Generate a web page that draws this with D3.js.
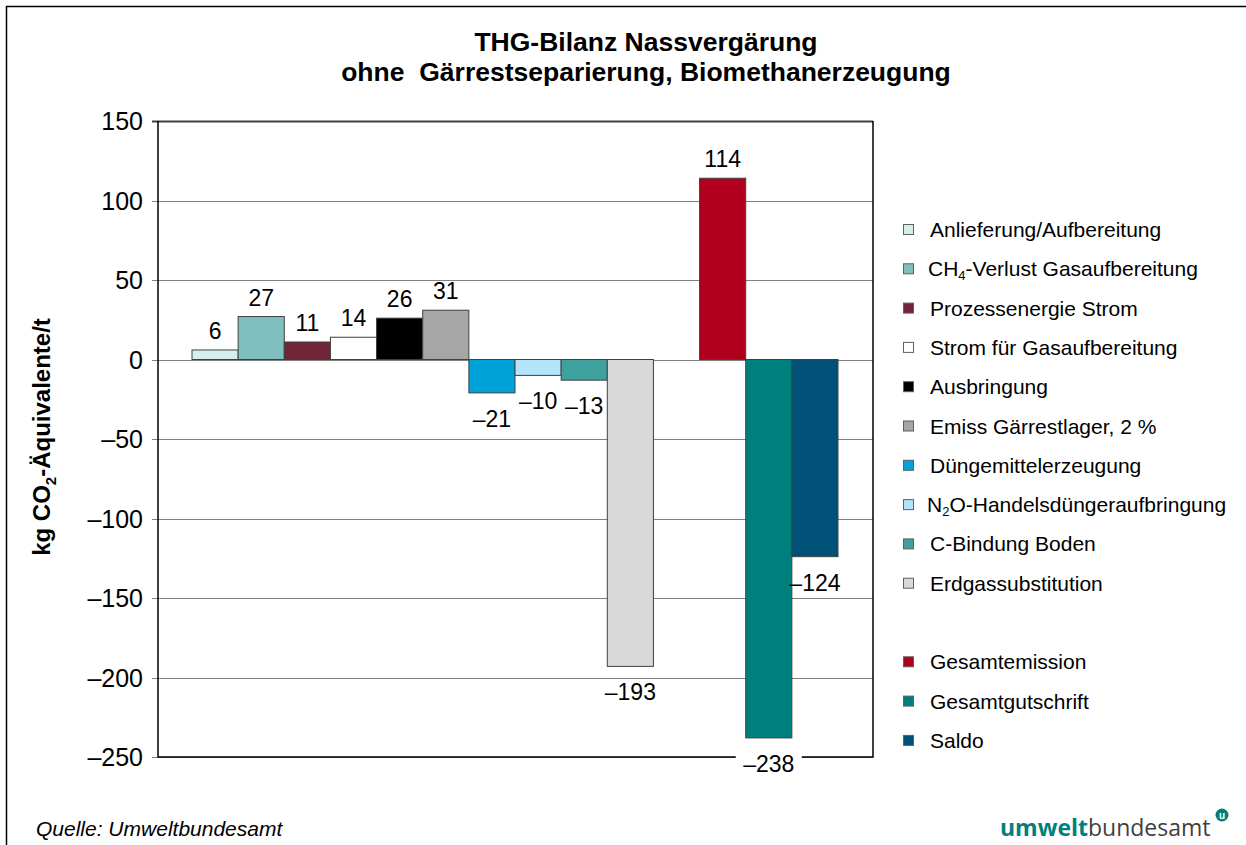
<!DOCTYPE html>
<html>
<head>
<meta charset="utf-8">
<script src="https://cdn.jsdelivr.net/npm/d3@7"></script>
<style>
  body { margin: 0; background: #fff; }
  svg { font-family: Arial, "Liberation Sans", sans-serif; }
</style>
</head>
<body>
<svg id="chart" width="1246" height="845"></svg>
<script>
// chart data
const categories = [
    'Anlieferung/Aufbereitung', 'CH4-Verlust Gasaufbereitung', 'Prozessenergie Strom',
    'Strom für Gasaufbereitung', 'Ausbringung', 'Emiss Gärrestlager, 2 %',
    'Düngemittelerzeugung', 'N2O-Handelsdüngeraufbringung', 'C-Bindung Boden',
    'Erdgassubstitution', 'Gesamtemission', 'Gesamtgutschrift', 'Saldo'
];
const values = [6, 27, 11, 14, 26, 31, -21, -10, -13, -193, 114, -238, -124];
// 0 = single items, 1 = totals
const groups = [0, 0, 0, 0, 0, 0, 0, 0, 0, 0, 1, 1, 1];
const colors = ['#d5efec', '#80bfbf', '#722438', '#ffffff', '#000000', '#a6a6a6',
    '#00a3d9', '#b4e4f9', '#3fa19f', '#d9d9d9', '#b0001e', '#00807d', '#005078'];
const yTicks = [150, 100, 50, 0, -50, -100, -150, -200, -250];

const svg = d3.select('#chart');
const plot = {left: 158, right: 873, top: 121, bottom: 757};
const fmt = d => d < 0 ? '\u2013' + Math.abs(d) : String(d);

// outer frame
svg.append('rect')
    .attr('x', 6.5).attr('y', 6.5)
    .attr('width', 1300).attr('height', 900)
    .attr('fill', 'none').attr('stroke', '#000').attr('stroke-width', 1.5);

// title
const title = svg.append('text')
    .attr('text-anchor', 'middle')
    .attr('font-size', 26.5).attr('font-weight', 'bold')
    .style('white-space', 'pre');
title.append('tspan').attr('x', 646).attr('y', 51).text('THG-Bilanz Nassvergärung');
title.append('tspan').attr('x', 646).attr('y', 81).text('ohne  Gärrestseparierung, Biomethanerzeugung');

// scales
const y = d3.scaleLinear().domain([-250, 150]).range([plot.bottom, plot.top]);
// one empty slot between the two groups
const slots = categories.map((c, i) => i + groups[i]);
const x = d3.scaleLinear()
    .domain([0, d3.max(slots) + 1])
    .range([192, 838]);
const bw = x(1) - x(0);

// gridlines
svg.append('g')
    .selectAll('line')
    .data(yTicks)
    .enter()
    .append('line')
    .attr('x1', plot.left - 6).attr('x2', plot.right)
    .attr('y1', d => Math.round(y(d)) + 0.5)
    .attr('y2', d => Math.round(y(d)) + 0.5)
    .attr('stroke', d => d === 150 ? '#404040' : '#808080')
    .attr('stroke-width', d => d === 150 ? 2 : 1);

// y axis labels
svg.append('g')
    .selectAll('text')
    .data(yTicks)
    .enter()
    .append('text')
    .attr('x', 143)
    .attr('y', d => y(d) + 9)
    .attr('text-anchor', 'end')
    .attr('font-size', 25)
    .text(fmt);

// y axis title
const yTitle = svg.append('text')
    .attr('transform', 'translate(50,' + 437 + ') rotate(-90)')
    .attr('text-anchor', 'middle')
    .attr('font-size', 24).attr('font-weight', 'bold');
yTitle.append('tspan').text('kg CO');
yTitle.append('tspan').attr('font-size', 15).attr('dy', 6).text('2');
yTitle.append('tspan').attr('dy', -6).text('-Äquivalente/t');

// bars
svg.append('g')
    .selectAll('rect')
    .data(values)
    .enter()
    .append('rect')
    .attr('x', (d, i) => x(slots[i]))
    .attr('width', bw)
    .attr('y', d => y(Math.max(0, d)))
    .attr('height', d => Math.abs(y(d) - y(0)))
    .attr('fill', (d, i) => colors[i])
    .attr('stroke', '#404040')
    .attr('stroke-width', 1);

// plot frame
svg.append('path')
    .attr('d', 'M' + plot.left + ',' + plot.top + 'V' + plot.bottom + 'H' + plot.right + 'V' + plot.top)
    .attr('fill', 'none').attr('stroke', '#000').attr('stroke-width', 1.5);

// value labels
const labels = svg.append('g')
    .selectAll('g')
    .data(values)
    .enter()
    .append('g')
    .attr('transform', (d, i) => 'translate(' + (x(slots[i]) + bw / 2) + ',' +
        (d >= 0 ? y(d) - 11 : y(d) + 34) + ')');
labels.filter(d => y(d) + 34 > plot.bottom - 10)
    .append('rect')
    .attr('x', -33).attr('y', -22).attr('width', 66).attr('height', 30)
    .attr('fill', '#fff');
labels.append('text')
    .attr('text-anchor', 'middle')
    .attr('font-size', 23)
    .text(fmt);

// legend
const legendRows = categories.map((c, i) => i + groups[i]);
const legend = svg.append('g')
    .selectAll('g')
    .data(categories)
    .enter()
    .append('g')
    .attr('transform', (d, i) => 'translate(903,' + (230 + legendRows[i] * 39.3) + ')');
legend.append('rect')
    .attr('x', 0.5).attr('y', -5.5).attr('width', 10).attr('height', 10)
    .attr('fill', (d, i) => colors[i])
    .attr('stroke', '#606060').attr('stroke-width', 1);
const legendText = legend.append('text')
    .attr('x', 27).attr('y', 7)
    .attr('font-size', 21);
legendText.each(function (d) {
    const t = d3.select(this);
    const m = d.match(/^(CH|N)(\d)(.*)$/);
    if (m) {
        t.attr('x', d.startsWith('N') ? 24 : 25);
        t.append('tspan').text(m[1]);
        t.append('tspan').attr('font-size', 13).attr('dy', 4).text(m[2]);
        t.append('tspan').attr('dy', -4).text(m[3]);
    } else {
        t.text(d);
    }
});

// footer
svg.append('text')
    .attr('x', 36).attr('y', 836)
    .attr('font-size', 21).attr('font-style', 'italic')
    .text('Quelle: Umweltbundesamt');

const logo = svg.append('text')
    .attr('x', 1000).attr('y', 836)
    .attr('font-size', 23)
    .attr('font-family', '"Open Sans", "DejaVu Sans", sans-serif');
logo.append('tspan').attr('font-weight', 'bold').attr('fill', '#00807d').text('umwelt');
logo.append('tspan').attr('fill', '#404040').text('bundesamt');
svg.append('circle')
    .attr('cx', 1222).attr('cy', 815).attr('r', 6.5)
    .attr('fill', '#00807d');
svg.append('text')
    .attr('x', 1222).attr('y', 819)
    .attr('text-anchor', 'middle')
    .attr('font-size', 10).attr('font-weight', 'bold')
    .attr('fill', '#fff')
    .text('u');
</script>
</body>
</html>
